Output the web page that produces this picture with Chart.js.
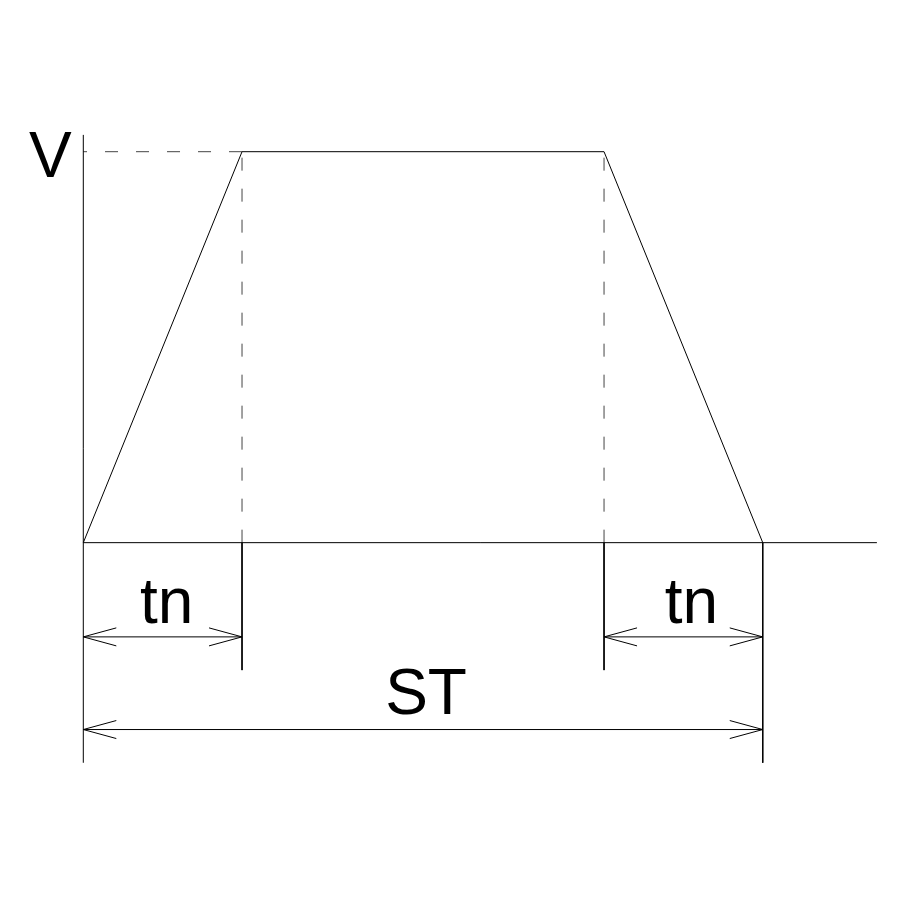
<!DOCTYPE html>
<html>
<head>
<meta charset="utf-8">
<title>Trapezoid velocity profile</title>
<script src="https://cdn.jsdelivr.net/npm/chart.js@4"></script>
<style>
    html, body { margin: 0; padding: 0; background: #fff; }
    #wrap { width: 900px; height: 900px; }
</style>
</head>
<body>
<div id="wrap"><canvas id="profileChart" width="900" height="900"></canvas></div>
<script>
// Profile values (time in % of ST, velocity as fraction of V)
const ST = 100;
const TN = 23.36;
const V = 1;
const profileTime = [0, TN, ST - TN, ST];
const profileVel = [0, V, V, 0];

// Dimension levels below the time axis
const tnDimLevel = -0.241;
const stDimLevel = -0.478;
const tnExtEnd = -0.326;
const stExtEnd = -0.563;
const axisTop = 1.043;
const baselineEnd = 116.8;

// Labels
const labelV = 'V';
const labelTn = 'tn';
const labelST = 'ST';

const LINE = '#000';
const FONT = '64px "Liberation Sans", Arial, sans-serif';

function seg(x1, y1, x2, y2) {
    return [{ x: x1, y: y1 }, { x: x2, y: y2 }];
}

function lineSet(data, dashed) {
    return {
        data: data,
        showLine: true,
        borderColor: dashed ? '#444' : LINE,
        borderWidth: 1,
        borderDash: dashed ? [13, 18] : [],
        pointRadius: 0,
        fill: false,
        tension: 0
    };
}

const profilePoints = profileTime.map((t, i) => ({ x: t, y: profileVel[i] }));

const datasets = [
    lineSet(profilePoints),
    lineSet(seg(0, 0, baselineEnd, 0)),
    lineSet(seg(0, stExtEnd, 0, axisTop)),
    // dashed guides
    lineSet(seg(TN, V, 0, V), true),
    lineSet(seg(TN, 0, TN, V), true),
    lineSet(seg(ST - TN, 0, ST - TN, V), true),
    // extension lines
    lineSet(seg(TN, 0, TN, tnExtEnd)),
    lineSet(seg(ST - TN, 0, ST - TN, tnExtEnd)),
    lineSet(seg(ST, 0, ST, stExtEnd)),
    // dimension lines
    lineSet(seg(0, tnDimLevel, TN, tnDimLevel)),
    lineSet(seg(ST - TN, tnDimLevel, ST, tnDimLevel)),
    lineSet(seg(0, stDimLevel, ST, stDimLevel))
];

// open arrowheads + text labels
const annotate = {
    id: 'annotate',
    afterDatasetsDraw(chart) {
        const ctx = chart.ctx;
        const xs = chart.scales.x;
        const ys = chart.scales.y;
        const px = v => xs.getPixelForValue(v);
        const py = v => ys.getPixelForValue(v);

        function head(x, y, dir) {
            ctx.beginPath();
            ctx.moveTo(x + dir * 33, y - 9);
            ctx.lineTo(x, y);
            ctx.lineTo(x + dir * 33, y + 9);
            ctx.stroke();
        }
        function dim(a, b, level, text, gap, shift) {
            const y = py(level);
            head(px(a), y, 1);
            head(px(b), y, -1);
            ctx.fillText(text, (px(a) + px(b)) / 2 + shift, y - gap);
        }

        ctx.save();
        ctx.strokeStyle = LINE;
        ctx.lineWidth = 1;
        ctx.fillStyle = '#000';
        ctx.font = FONT;
        ctx.textAlign = 'center';
        ctx.textBaseline = 'alphabetic';

        dim(0, TN, tnDimLevel, labelTn, 14, 4);
        dim(ST - TN, ST, tnDimLevel, labelTn, 14, 8);
        dim(0, ST, stDimLevel, labelST, 16, 3);

        ctx.fillText(labelV, px(0) - 33, py(V) + 25);
        ctx.restore();
    }
};

new Chart(document.getElementById('profileChart'), {
    type: 'scatter',
    data: { datasets: datasets },
    options: {
        responsive: false,
        animation: false,
        layout: { padding: 0 },
        plugins: {
            legend: { display: false },
            tooltip: { enabled: false }
        },
        scales: {
            x: { type: 'linear', display: false, min: -12.26, max: 120.2 },
            y: { type: 'linear', display: false, min: -0.914, max: 1.388 }
        }
    },
    plugins: [annotate]
});
</script>
</body>
</html>
